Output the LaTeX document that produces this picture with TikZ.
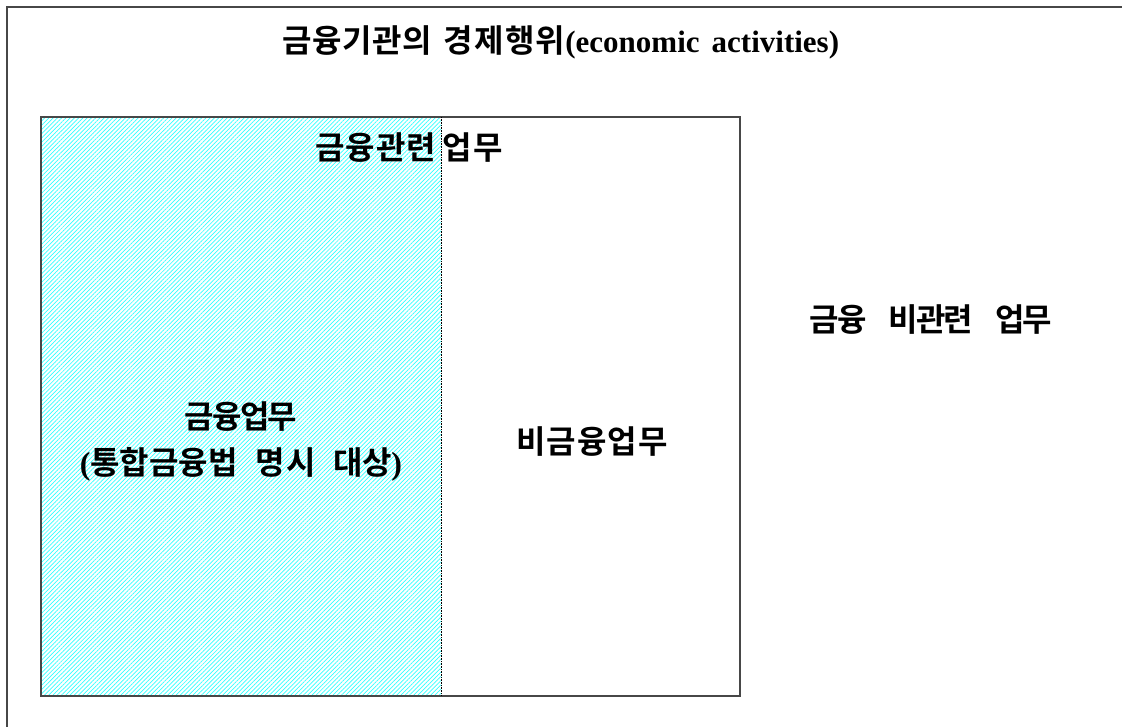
\documentclass[tikz,border=0pt]{standalone}
\usepackage{fontspec}
\setmainfont{Liberation Serif}
\newfontfamily\kr{Noto Sans CJK KR}[BoldFont={* Bold}]
\newfontfamily\lat{Liberation Serif}
\usetikzlibrary{patterns.meta}
\makeatletter
% set the characters of #2 with a kern of #1 between them
\newcommand\spc[2]{\def\spc@first{1}\@tfor\spc@c:=#2\do{\ifx\spc@first\@empty\kern#1\relax\fi\let\spc@first\@empty\spc@c}}
\makeatother
\tikzset{
  frame/.style={draw=black!72, line width=1.6pt},
  hatch/.style={pattern={Lines[angle=45,distance=3pt,line width=0.7pt]}, pattern color=cyan!80!white},
  lbl/.style={inner sep=0pt, align=center, font=\kr\bfseries\fontsize{32}{36}\selectfont},
}
\begin{document}
\begin{tikzpicture}[x=1pt,y=-1pt]
\useasboundingbox (0,0) rectangle (1122,727);
\clip (0,0) rectangle (1122,727);
\fill[white] (0,0) rectangle (1122,727);
% outer box (extends beyond the picture on right and bottom)
\draw[frame] (7,740) -- (7,7) -- (1135,7);
% hatched financial area
\path[hatch] (41,117) rectangle (441,696);
% inner box
\draw[frame] (41,117) rectangle (740,696);
\draw[densely dotted, line width=0.6pt] (441,117) -- (441,696);
% labels
\node[lbl] (title) at (561,42)
  {\spc{0.5pt}{금융기관의}\hspace{11pt}\spc{1.5pt}{경제행위}{\lat\bfseries\fontsize{31}{36}\selectfont(economic\hspace{12pt}activities)}};
\node[lbl] (rel) at (409,148)
  {\spc{1pt}{금융관련}\hspace{7pt}\spc{1pt}{업무}};
\node[lbl] (nonrel) at (931,320)
  {\spc{-2pt}{금융}\hspace{22pt}\spc{-2pt}{비관련}\hspace{22pt}\spc{-2pt}{업무}};
\node[lbl] (fin) at (241,417)
  {\spc{-1.7pt}{금융업무}};
\node[lbl] (finlaw) at (241,464)
  {{\lat\bfseries(}\spc{0pt}{통합금융법}\hspace{18pt}\spc{1pt}{명시}\hspace{18pt}\spc{-1pt}{대상}{\lat\bfseries)}};
\node[lbl] (nonfin) at (592,442)
  {\spc{1pt}{비금융업무}};
\end{tikzpicture}
\end{document}
